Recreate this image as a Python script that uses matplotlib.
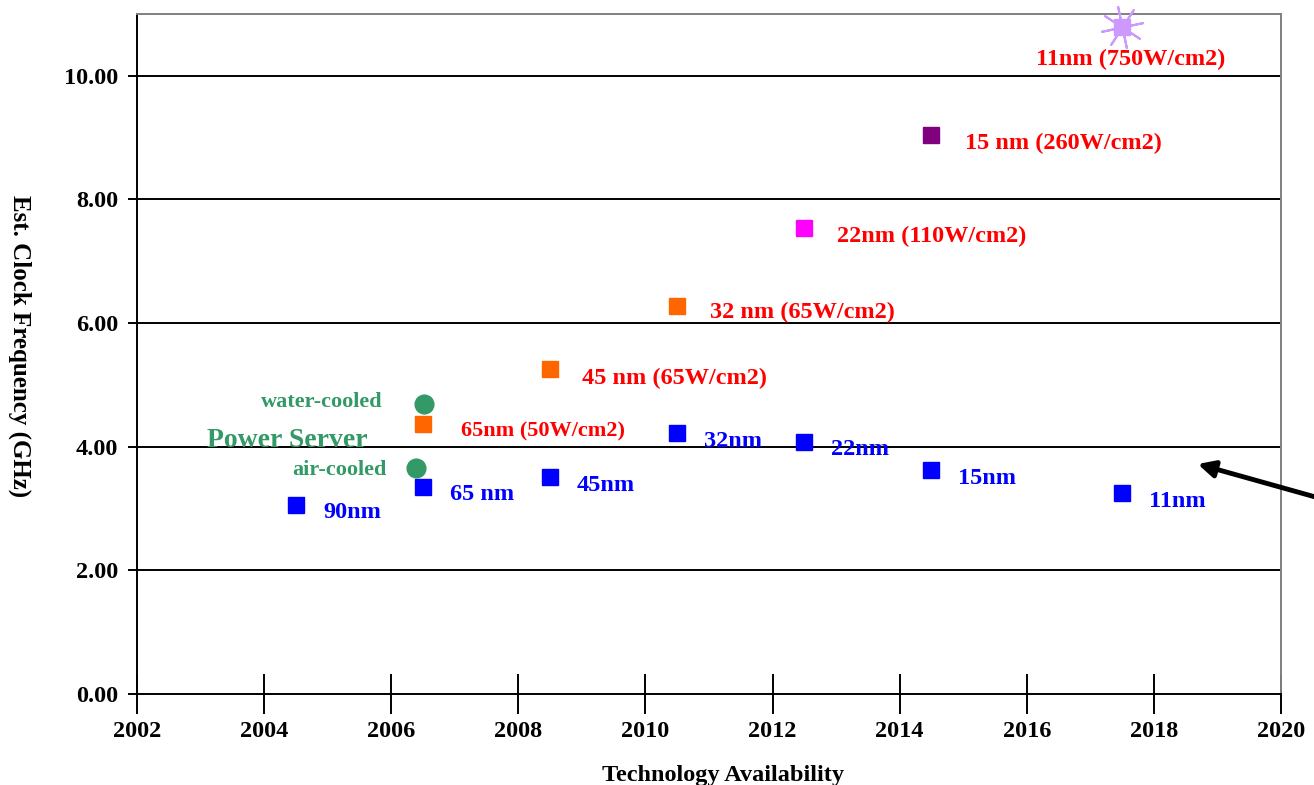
import matplotlib.pyplot as plt

# blue: chip frequency trend per node
node_years = [2004.5, 2006.5, 2008.5, 2010.5, 2012.5, 2014.5, 2017.5]
node_ghz = [3.06, 3.35, 3.51, 4.22, 4.08, 3.62, 3.25]
node_labels = ["90nm", "65 nm", "45nm", "32nm", "22nm", "15nm", "11nm"]

# power-limited points
hot_years = [2006.5, 2008.5, 2010.5, 2012.5, 2014.5, 2017.5]
hot_ghz = [4.37, 5.26, 6.28, 7.54, 9.05, 10.79]
hot_labels = ["65nm (50W/cm2)", "45 nm (65W/cm2)", "32 nm (65W/cm2)",
              "22nm (110W/cm2)", "15 nm (260W/cm2)", "11nm (750W/cm2)"]
hot_colors = ["#FF6600", "#FF6600", "#FF6600", "#FF00FF", "#800080", "#CC99FF"]

# Power Server
server_years = [2006.52, 2006.39]
server_ghz = [4.69, 3.66]
server_labels = ["water-cooled", "air-cooled"]

xticks = list(range(2002, 2021, 2))
yticks = [0, 2, 4, 6, 8, 10]

SERIF = "Liberation Serif"
GREEN = "#339966"

fig = plt.figure(figsize=(13.14, 7.85), dpi=100)
ax = fig.add_axes([137 / 1314, 91 / 785, 1144 / 1314, 680 / 785])
ax.set_xlim(2002, 2020)
ax.set_ylim(0, 11)

for y in yticks[1:]:
    ax.axhline(y, color="black", lw=1.4, zorder=1)

ax.spines["top"].set_color("#808080")
ax.spines["right"].set_color("#808080")
for side in ["top", "right", "left", "bottom"]:
    ax.spines[side].set_linewidth(1.4)

ax.set_xticks(xticks)
ax.set_yticks(yticks)
ax.set_yticklabels([f"{v:.2f}" for v in yticks])
ax.tick_params(axis="x", direction="inout", length=29, width=1.4, pad=5)
ax.tick_params(axis="y", direction="out", length=6.5, width=1.4, pad=7)
for lab in ax.get_xticklabels() + ax.get_yticklabels():
    lab.set_fontfamily(SERIF)
    lab.set_fontweight("bold")
    lab.set_fontsize(17.5)

# blue series
ax.plot(node_years, node_ghz, ls="none", marker="s", ms=12, color="#0000FF",
        zorder=3)
for x, y, t in zip(node_years, node_ghz, node_labels):
    ax.annotate(t, (x, y), xytext=(27, -8), textcoords="offset pixels",
                ha="left", va="center", color="#0000FF", fontsize=17.5,
                fontweight="bold", family=SERIF)

# power density series
hot_offsets = [(38, -8), (32, -10), (33, -7), (33, -9), (34, -9), (9, -32)]
for i, (x, y, t, c) in enumerate(zip(hot_years, hot_ghz, hot_labels, hot_colors)):
    last = i == len(hot_years) - 1
    if last:
        ax.plot(x, y, marker=(8, 2, 12), ms=31, mew=1.5, color=c, ls="none",
                zorder=3, clip_on=False)
    ax.plot(x, y, marker="s", ms=11.5, color=c, ls="none", zorder=4,
            clip_on=False)
    ax.annotate(t, (x, y), xytext=hot_offsets[i], textcoords="offset pixels",
                ha="center" if last else "left", va="center", color="#FF0000",
                fontsize=16 if i == 0 else 17.5, fontweight="bold",
                family=SERIF)

# Power Server
server_offsets = [(-42, 2), (-29, -2)]
ax.plot(server_years, server_ghz, ls="none", marker="o", ms=13.5, color=GREEN,
        zorder=3)
for x, y, t, off in zip(server_years, server_ghz, server_labels, server_offsets):
    ax.annotate(t, (x, y), xytext=off, textcoords="offset pixels",
                ha="right", va="center", color=GREEN, fontsize=16,
                fontweight="bold", family=SERIF)
ax.text(2003.1, 4.1, "Power Server", ha="left", va="center", color=GREEN,
        fontsize=20, fontweight="bold", family=SERIF)

# arrow coming in from the right
ax.annotate("", xy=(2018.69, 3.72), xytext=(2020.6, 3.17),
            arrowprops=dict(arrowstyle="-|>,head_length=1.0,head_width=0.5",
                            lw=3.5, color="black", shrinkA=0, shrinkB=0),
            annotation_clip=False)

fig.text(723 / 1314, 9 / 785, "Technology Availability", ha="center",
         va="center", fontsize=17.5, fontweight="bold", family=SERIF)
fig.text(20 / 1314, (785 - 346) / 785, "Est. Clock Frequency (GHz)",
         ha="center", va="center", rotation=-90, fontsize=18,
         fontweight="bold", family=SERIF)

fig.savefig("out.png", dpi=100)
